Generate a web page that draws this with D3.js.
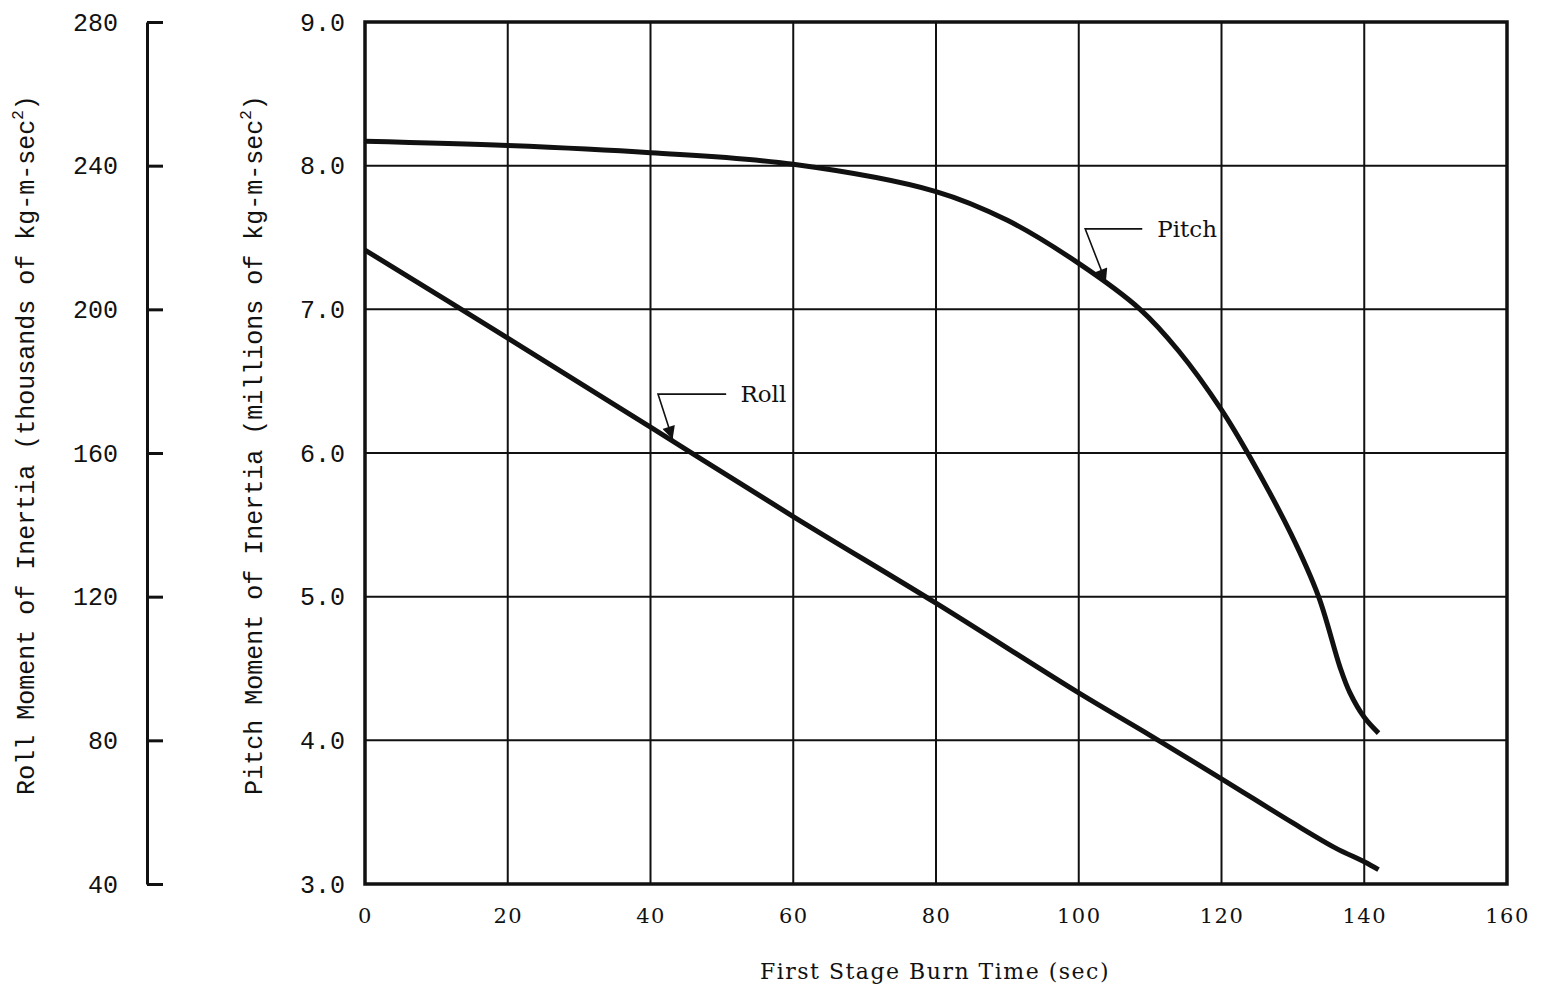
<!DOCTYPE html>
<html>
<head>
<meta charset="utf-8">
<script src="https://cdn.jsdelivr.net/npm/d3@7"></script>
<style>
  body { margin: 0; background: #fff; }
  svg { display: block; }
</style>
</head>
<body>
<div id="chart"></div>
<script>
// burn time ticks
const timeTicks = [0, 20, 40, 60, 80, 100, 120, 140, 160]
const pitchTicks = [3, 4, 5, 6, 7, 8, 9]
const rollTicks = [40, 80, 120, 160, 200, 240, 280]

// Pitch moment of inertia (millions of kg-m-sec^2)
const pitchTime = [0, 20, 40, 60, 80, 90, 100, 108.6, 114, 120, 124, 129.7, 133.6, 136.6, 138, 140, 142]
const pitchValue = [8.17, 8.14, 8.09, 8.01, 7.82, 7.62, 7.32, 7.0, 6.71, 6.30, 5.97, 5.44, 5.0, 4.51, 4.33, 4.16, 4.05]

// Roll moment of inertia (thousands of kg-m-sec^2)
const rollTime = [0, 20, 40, 60, 80, 100, 110, 120, 130, 136, 140, 142]
const rollValue = [216.5, 192, 167.2, 142.3, 118.2, 93.2, 81.4, 69.3, 57, 50, 46.2, 44]

const W = 1547, H = 989
const svg = d3.select("#chart").append("svg")
    .attr("width", W)
    .attr("height", H)

const x = d3.scaleLinear().domain([0, 160]).range([365, 1507])
const yP = d3.scaleLinear().domain([3, 9]).range([884, 22])
const yR = d3.scaleLinear().domain([40, 280]).range([884, 22])

const ink = "#111"
const mono = "'Liberation Mono', 'DejaVu Sans Mono', monospace"
const serif = "'DejaVu Serif', serif"

// grid
svg.append("g")
    .selectAll("line.v")
    .data(timeTicks.slice(1, -1))
    .join("line")
    .attr("x1", d => x(d)).attr("x2", d => x(d))
    .attr("y1", yP(9)).attr("y2", yP(3))
    .attr("stroke", ink).attr("stroke-width", 2)
svg.append("g")
    .selectAll("line.h")
    .data(pitchTicks.slice(1, -1))
    .join("line")
    .attr("x1", x(0)).attr("x2", x(160))
    .attr("y1", d => yP(d)).attr("y2", d => yP(d))
    .attr("stroke", ink).attr("stroke-width", 2)

svg.append("rect")
    .attr("x", x(0)).attr("y", yP(9))
    .attr("width", x(160) - x(0)).attr("height", yP(3) - yP(9))
    .attr("fill", "none").attr("stroke", ink).attr("stroke-width", 3.5)

// pitch axis
svg.append("g")
    .attr("transform", `translate(${x(0)},0)`)
    .call(d3.axisLeft(yP).tickValues(pitchTicks).tickSize(0).tickPadding(20).tickFormat(d3.format(".1f")))
    .call(g => g.select(".domain").remove())
    .call(g => g.selectAll("text")
        .attr("font-family", mono).attr("font-size", 25).attr("fill", ink))

// roll axis
svg.append("g")
    .attr("transform", `translate(147,0)`)
    .call(d3.axisLeft(yR).tickValues(rollTicks).tickSizeInner(-16).tickSizeOuter(0).tickPadding(29))
    .call(g => g.select(".domain").attr("stroke", ink).attr("stroke-width", 3))
    .call(g => g.selectAll(".tick line").attr("stroke", ink).attr("stroke-width", 3))
    .call(g => g.selectAll("text")
        .attr("font-family", mono).attr("font-size", 25).attr("fill", ink))

// x axis
svg.append("g")
    .attr("transform", `translate(0,${yP(3)})`)
    .call(d3.axisBottom(x).tickValues(timeTicks).tickSize(0).tickPadding(24))
    .call(g => g.select(".domain").remove())
    .call(g => g.selectAll("text")
        .attr("font-family", serif).attr("font-size", 21).attr("letter-spacing", 1.5).attr("fill", ink))

svg.append("text")
    .attr("x", 935).attr("y", 979)
    .attr("text-anchor", "middle")
    .attr("font-family", serif).attr("font-size", 22).attr("letter-spacing", 1.5)
    .attr("fill", ink)
    .text("First Stage Burn Time (sec)")

// y titles
function yTitle(cx, words) {
    const t = svg.append("text")
        .attr("transform", `translate(${cx},445) rotate(-90)`)
        .attr("text-anchor", "middle")
        .attr("font-family", mono).attr("font-size", 25).attr("fill", ink)
    t.append("tspan").text(words)
    t.append("tspan").attr("font-size", 16).attr("dy", -11).text("2")
    t.append("tspan").attr("dy", 11).text(")")
}
yTitle(34, "Roll Moment of Inertia (thousands of kg-m-sec")
yTitle(262, "Pitch Moment of Inertia (millions of kg-m-sec")

// curves
const pitchLine = d3.line()
    .x((d, i) => x(pitchTime[i]))
    .y(d => yP(d))
    .curve(d3.curveCatmullRom.alpha(0.5))
svg.append("path")
    .datum(pitchValue)
    .attr("fill", "none").attr("stroke", ink).attr("stroke-width", 5)
    .attr("d", pitchLine)

const rollLine = d3.line()
    .x((d, i) => x(rollTime[i]))
    .y(d => yR(d))
    .curve(d3.curveCatmullRom.alpha(0.5))
svg.append("path")
    .datum(rollValue)
    .attr("fill", "none").attr("stroke", ink).attr("stroke-width", 5)
    .attr("d", rollLine)

// leader labels
svg.append("defs").append("marker")
    .attr("id", "arr")
    .attr("viewBox", "0 0 10 10")
    .attr("refX", 10).attr("refY", 5)
    .attr("markerWidth", 22).attr("markerHeight", 13)
    .attr("markerUnits", "userSpaceOnUse")
    .attr("orient", "auto")
    .append("path").attr("d", "M0,0L10,5L0,10Z").attr("fill", ink)

function leader(endX, elbowX, elbowY, tipX, tipY, label, textX) {
    svg.append("path")
        .attr("d", `M${endX},${elbowY}L${elbowX},${elbowY}L${tipX},${tipY}`)
        .attr("fill", "none").attr("stroke", ink).attr("stroke-width", 1.6)
        .attr("marker-end", "url(#arr)")
    svg.append("text")
        .attr("x", textX).attr("y", elbowY).attr("dy", "0.35em")
        .attr("font-family", serif).attr("font-size", 23).attr("fill", ink)
        .text(label)
}
leader(x(108.9), x(100.9), yP(7.56), x(103.8), yP(7.19), "Pitch", x(111))
leader(x(50.6), x(41.05), yR(176.4), x(43.1), yR(163.8), "Roll", x(52.6))
</script>
</body>
</html>
